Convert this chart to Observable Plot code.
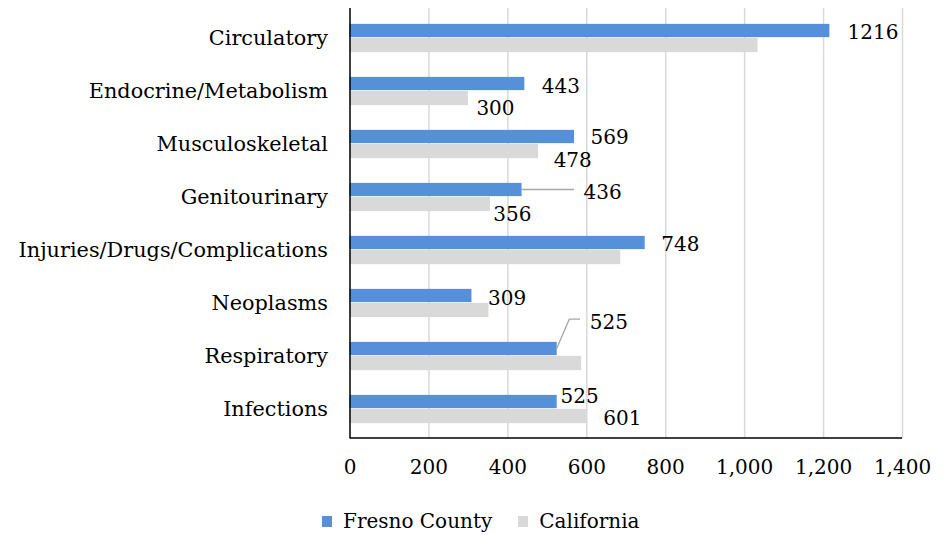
<!DOCTYPE html>
<html>
<head>
<meta charset="utf-8">
<script src="https://cdn.jsdelivr.net/npm/d3@7"></script>
<script src="https://cdn.jsdelivr.net/npm/@observablehq/plot@0.6"></script>
<style>
  body { margin: 0; background: #ffffff; font-family: "DejaVu Serif", serif; }
  #legend { display: flex; align-items: center; padding-left: 322px; margin-top: 28px; font-size: 20px; line-height: 22px; color: #000; }
  #legend .sw { width: 10px; height: 11px; display: inline-block; margin-right: 11px; }
  #legend .item { display: flex; align-items: center; margin-right: 26px; }
</style>
</head>
<body>
<div id="chart"></div>
<div id="legend"></div>
<script>
// ---- data ----
const categories = ["Circulatory", "Endocrine/Metabolism", "Musculoskeletal", "Genitourinary",
  "Injuries/Drugs/Complications", "Neoplasms", "Respiratory", "Infections"];
const fresno = [1216, 443, 569, 436, 748, 309, 525, 525];
const california = [1034, 300, 478, 356, 686, 352, 587, 601];
const fresnoLabels = ["1216", "443", "569", "436", "748", "309", "525", "525"];
const californiaLabels = ["", "300", "478", "356", "", "", "", "601"];
const xTicks = [0, 200, 400, 600, 800, 1000, 1200, 1400];
const seriesNames = ["Fresno County", "California"];

// ---- styling ----
const seriesColors = ["#5590d8", "#d9d9d9"];
// label nudges in pixels [dx, dy] relative to bar end / bar centre
const fresnoLabelShift = [[17.7, 1], [17, 2], [16, 0], [61.5, 2], [16, 0.5], [16, 1.3], [32.6, -27.7], [3.3, -6.7]];
const californiaLabelShift = [[0, 0], [8, 9], [15, 8], [2.7, 9], [0, 0], [0, 0], [0, 0], [16, 1.5]];
// leader lines: pixel offsets relative to the Fresno bar end
const leaders = [
  {index: 3, pts: [[0, 0], [52.5, 0]]},
  {index: 6, pts: [[0, 0], [12.6, -29.3], [23.3, -29.3]]}
];

const W = 948, H = 482, mTop = 8, mBottom = 44, mLeft = 349.5, mRight = 46;
const bw = (H - mTop - mBottom) / categories.length;
const blueH = 14, grayH = 15;

const rows = categories.map((c, i) => ({category: c, fresno: fresno[i], california: california[i]}));

const labelMarks = [];
rows.forEach((r, i) => {
  labelMarks.push(Plot.text([r], {
    x: "fresno", y: "category", text: () => fresnoLabels[i],
    textAnchor: "start", dx: fresnoLabelShift[i][0], dy: -blueH / 2 + fresnoLabelShift[i][1] + 1,
    fill: "#000"
  }));
  if (californiaLabels[i]) {
    labelMarks.push(Plot.text([r], {
      x: "california", y: "category", text: () => californiaLabels[i],
      textAnchor: "start", dx: californiaLabelShift[i][0], dy: grayH / 2 + californiaLabelShift[i][1] + 1,
      fill: "#000"
    }));
  }
});

const chart = Plot.plot({
  width: W, height: H,
  marginTop: mTop, marginBottom: mBottom, marginLeft: mLeft, marginRight: mRight,
  style: {fontFamily: "DejaVu Serif, serif", fontSize: "20px", color: "#000", background: "#fff"},
  x: {domain: [0, 1400], ticks: xTicks, tickFormat: d3.format(","), tickSize: 0, tickPadding: 21, label: null},
  y: {domain: categories, padding: 0, tickSize: 0, tickPadding: 22, label: null},
  marks: [
    Plot.ruleX(xTicks.slice(1), {stroke: "#d9d9d9", strokeWidth: 1.5}),
    Plot.barX(rows, {x: "fresno", y: "category", fill: seriesColors[0], insetTop: bw / 2 - blueH, insetBottom: bw / 2}),
    Plot.barX(rows, {x: "california", y: "category", fill: seriesColors[1], insetTop: bw / 2, insetBottom: bw / 2 - grayH}),
    Plot.ruleX([0], {stroke: "#000", strokeWidth: 1.5}),
    ...labelMarks
  ]
});

// bottom axis line and leader lines, positioned through the plot's scales
const sx = chart.scale("x"), sy = chart.scale("y");
const svg = d3.select(chart);
svg.append("line")
  .attr("x1", sx.apply(0)).attr("x2", sx.apply(1400))
  .attr("y1", H - mBottom).attr("y2", H - mBottom)
  .attr("stroke", "#000").attr("stroke-width", 1.5);
leaders.forEach(l => {
  const x0 = sx.apply(fresno[l.index]);
  const y0 = sy.apply(categories[l.index]) + sy.bandwidth / 2 - blueH / 2;
  svg.append("polyline")
    .attr("points", l.pts.map(([dx, dy]) => `${x0 + dx},${y0 + dy}`).join(" "))
    .attr("fill", "none").attr("stroke", "#a6a6a6").attr("stroke-width", 1.3);
});
// slightly larger category labels
svg.selectAll('[aria-label="y-axis tick label"] text, [aria-label="y-axis tick label"]').attr("font-size", 20.8);

document.getElementById("chart").appendChild(chart);

const legend = document.getElementById("legend");
seriesNames.forEach((n, i) => {
  const item = document.createElement("div");
  item.className = "item";
  const sw = document.createElement("span");
  sw.className = "sw";
  sw.style.background = seriesColors[i];
  const t = document.createElement("span");
  t.textContent = n;
  item.appendChild(sw); item.appendChild(t);
  legend.appendChild(item);
});
</script>
</body>
</html>
